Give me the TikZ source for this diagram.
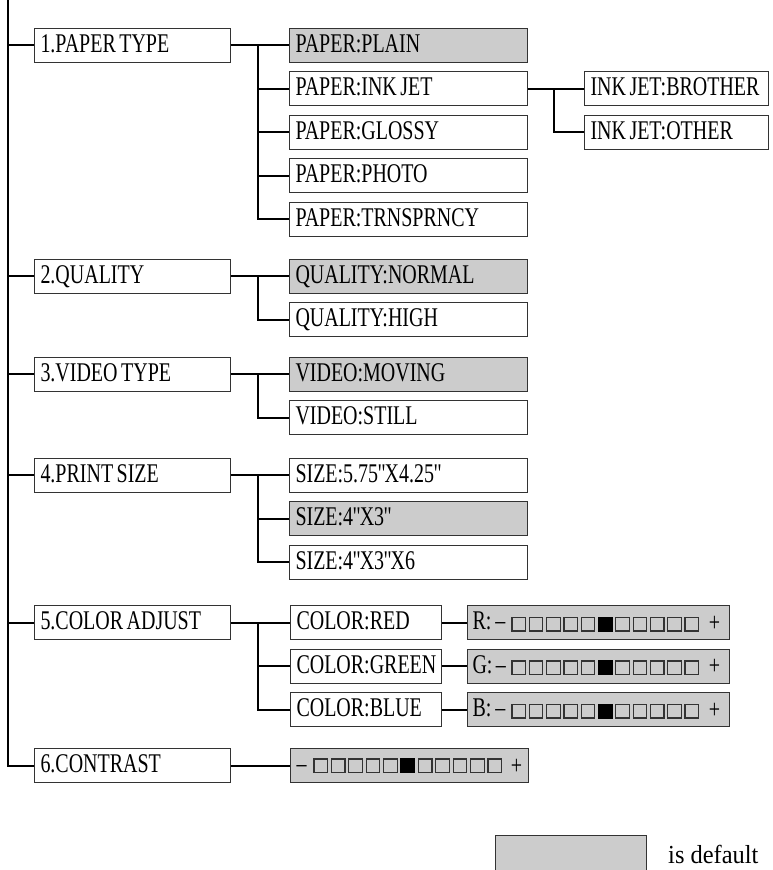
\documentclass[tikz,border=0pt]{standalone}
\usepackage{fontspec}
\newfontfamily\condfont[FakeStretch=0.74]{Liberation Serif}
\newfontfamily\legfont[FakeStretch=0.94]{Liberation Serif}
\newcommand\cfont{\condfont\fontsize{27pt}{29pt}\selectfont}
\newcommand\ws{\hspace{3.5pt}}
\newcommand\dq{\kern-0.5pt\XeTeXglyph\XeTeXcharglyph"22 \kern-4pt}
\definecolor{deffill}{HTML}{CCCCCC}
\definecolor{edgecol}{HTML}{333333}
\begin{document}
\begin{tikzpicture}[x=1pt,y=-1pt,
  font={\cfont},
  box/.style={draw=edgecol, line width=1pt, rectangle, anchor=west,
    minimum height=34pt, inner xsep=6pt, inner ysep=0pt,
    text height=14.8pt, text depth=0pt, align=left},
  dflt/.style={fill=deffill},
  wa/.style={text width=184pt},
  wb/.style={text width=226pt},
  wc/.style={text width=172pt},
  wd/.style={text width=139pt},
  ws/.style={text width=252pt, inner xsep=5pt},
  conn/.style={line width=2pt},
  sq/.style={draw=edgecol, line width=1.2pt},
  sqon/.style={draw=black, fill=black, line width=1.2pt},
  sign/.style={anchor=base, inner sep=0pt}
]
\useasboundingbox (0,0) rectangle (772,870);

% level 1
\node[box,wa] (p1) at (34,45) {1.PAPER\ws TYPE};
\node[box,wa] (p2) at (34,276) {2.QUALITY};
\node[box,wa] (p3) at (34,374) {3.VIDEO\ws TYPE};
\node[box,wa] (p4) at (34,475) {4.PRINT\ws SIZE};
\node[box,wa] (p5) at (34,622.5) {5.COLOR\ws ADJUST};
\node[box,wa] (p6) at (34,765.5) {6.CONTRAST};

% section 1
\node[box,wb,dflt] (c11) at (289,45) {PAPER:PLAIN};
\node[box,wb] (c12) at (289,88.5) {PAPER:INK\ws JET};
\node[box,wb] (c13) at (289,132) {PAPER:GLOSSY};
\node[box,wb] (c14) at (289,175.5) {PAPER:PHOTO};
\node[box,wb] (c15) at (289,219) {PAPER:TRNSPRNCY};
\node[box,wc] (k1) at (584,88.5) {\mbox{INK\ws JET:BROTHER}};
\node[box,wc] (k2) at (584,132) {INK\ws JET:OTHER};

% section 2
\node[box,wb,dflt] (c21) at (289,276) {QUALITY:NORMAL};
\node[box,wb] (c22) at (289,319.5) {QUALITY:HIGH};

% section 3
\node[box,wb,dflt] (c31) at (289,374) {VIDEO:MOVING};
\node[box,wb] (c32) at (289,417.5) {VIDEO:STILL};

% section 4
\node[box,wb] (c41) at (289,475) {SIZE:5.75\dq X4.25\dq};
\node[box,wb,dflt] (c42) at (289,518.5) {SIZE:4\dq X3\dq};
\node[box,wb] (c43) at (289,562) {SIZE:4\dq X3\dq X6};

% section 5
\node[box,wd] (c51) at (290,622.5) {COLOR:RED};
\node[box,wd] (c52) at (290,666) {\mbox{COLOR:GREEN}};
\node[box,wd] (c53) at (290,709.5) {COLOR:BLUE};
\node[box,ws,dflt] (r1) at (467,622.5) {R:\hspace{4pt}–};
\node[box,ws,dflt] (r2) at (467,666) {G:\hspace{3.5pt}–};
\node[box,ws,dflt] (r3) at (467,709.5) {B:\hspace{4pt}–};
\node[sign] (r1p) at (714.5,631) {+};
\node[sign] (r2p) at (714.5,674.5) {+};
\node[sign] (r3p) at (714.5,718) {+};
\foreach \yc in {622.5,666,709.5}{
  \foreach \i in {0,1,2,3,4,6,7,8,9,10}
    \draw[sq] (512+17.3*\i,\yc-5) rectangle ++(13.5,13.5);
  \draw[sqon] (512+17.3*5,\yc-5) rectangle ++(13.5,13.5);
}

% section 6
\node[box,wb,dflt] (c61) at (290,765.5) {–};
\node[sign] (c61p) at (516.5,774) {+};
\foreach \i in {0,1,2,3,4,6,7,8,9,10}
  \draw[sq] (314+17.4*\i,759) rectangle ++(13.5,13.5);
\draw[sqon] (314+17.4*5,759) rectangle ++(13.5,13.5);

% main spine
\coordinate (top) at (7.5,0);
\draw[conn] (top) |- (p6.west);
\foreach \n in {p1,p2,p3,p4,p5}
  \draw[conn] (top |- \n.west) -- (\n.west);

% section trunks
\coordinate (t1) at (258,45);
\coordinate (t2) at (258,276);
\coordinate (t3) at (258,374);
\coordinate (t4) at (258,475);
\coordinate (t5) at (258,622.5);
\coordinate (tk) at (554,88.5);

\draw[conn] (p1.east) -- (c11.west);
\draw[conn] (t1) |- (c15.west);
\foreach \n in {c12,c13,c14} \draw[conn] (t1 |- \n.west) -- (\n.west);
\draw[conn] (c12.east) -- (k1.west);
\draw[conn] (tk) |- (k2.west);

\draw[conn] (p2.east) -- (c21.west);
\draw[conn] (t2) |- (c22.west);

\draw[conn] (p3.east) -- (c31.west);
\draw[conn] (t3) |- (c32.west);

\draw[conn] (p4.east) -- (c41.west);
\draw[conn] (t4) |- (c43.west);
\draw[conn] (t4 |- c42.west) -- (c42.west);

\draw[conn] (p5.east) -- (c51.west);
\draw[conn] (t5) |- (c53.west);
\draw[conn] (t5 |- c52.west) -- (c52.west);
\draw[conn] (c51.east) -- (r1.west);
\draw[conn] (c52.east) -- (r2.west);
\draw[conn] (c53.east) -- (r3.west);

\draw[conn] (p6.east) -- (c61.west);

% legend
\node[box,wd,dflt,minimum height=37pt] (leg) at (495,854) {};
\node[anchor=base west, inner sep=0pt, font=\legfont\fontsize{26pt}{28pt}\selectfont] (legtxt) at (668,863) {is default};
\end{tikzpicture}
\end{document}
